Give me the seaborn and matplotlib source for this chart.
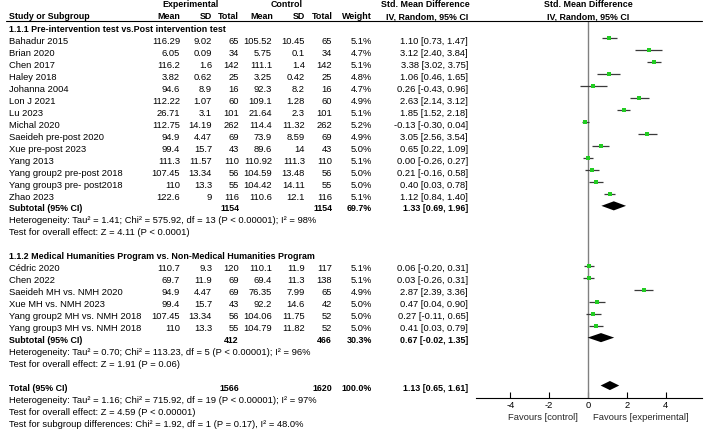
import matplotlib
matplotlib.use("Agg")
import matplotlib.pyplot as plt
import seaborn as sns
import pandas as pd
from matplotlib.transforms import blended_transform_factory
from matplotlib.lines import Line2D

# ---------------- data ----------------
studies1 = ["Bahadur 2015", "Brian 2020", "Chen 2017", "Haley 2018", "Johanna 2004", "Lon J 2021",
            "Lu 2023", "Michal 2020", "Saeideh pre-post 2020", "Xue pre-post 2023", "Yang 2013",
            "Yang group2 pre-post 2018", "Yang group3 pre- post2018", "Zhao 2023"]
exp_mean1 = ["116.29", "6.05", "116.2", "3.82", "94.6", "112.22", "26.71", "112.75", "94.9", "99.4",
             "111.3", "107.45", "110", "122.6"]
exp_sd1 = ["9.02", "0.09", "1.6", "0.62", "8.9", "1.07", "3.1", "14.19", "4.47", "15.7", "11.57",
           "13.34", "13.3", "9"]
exp_n1 = [65, 34, 142, 25, 16, 60, 101, 262, 69, 43, 110, 56, 55, 116]
ctl_mean1 = ["105.52", "5.75", "111.1", "3.25", "92.3", "109.1", "21.64", "114.4", "73.9", "89.6",
             "110.92", "104.59", "104.42", "110.6"]
ctl_sd1 = ["10.45", "0.1", "1.4", "0.42", "8.2", "1.28", "2.3", "11.32", "8.59", "14", "111.3",
           "13.48", "14.11", "12.1"]
ctl_n1 = [65, 34, 142, 25, 16, 60, 101, 262, 69, 43, 110, 56, 55, 116]
weight1 = [5.1, 4.7, 5.1, 4.8, 4.7, 4.9, 5.1, 5.2, 4.9, 5.0, 5.1, 5.0, 5.0, 5.1]
smd1 = [1.10, 3.12, 3.38, 1.06, 0.26, 2.63, 1.85, -0.13, 3.05, 0.65, 0.00, 0.21, 0.40, 1.12]
lo1 = [0.73, 2.40, 3.02, 0.46, -0.43, 2.14, 1.52, -0.30, 2.56, 0.22, -0.26, -0.16, 0.03, 0.84]
hi1 = [1.47, 3.84, 3.75, 1.65, 0.96, 3.12, 2.18, 0.04, 3.54, 1.09, 0.27, 0.58, 0.78, 1.40]

studies2 = ["Cédric 2020", "Chen 2022", "Saeideh MH vs. NMH 2020", "Xue MH vs. NMH 2023",
            "Yang group2 MH vs. NMH 2018", "Yang group3 MH vs. NMH 2018"]
exp_mean2 = ["110.7", "69.7", "94.9", "99.4", "107.45", "110"]
exp_sd2 = ["9.3", "11.9", "4.47", "15.7", "13.34", "13.3"]
exp_n2 = [120, 69, 69, 43, 56, 55]
ctl_mean2 = ["110.1", "69.4", "76.35", "92.2", "104.06", "104.79"]
ctl_sd2 = ["11.9", "11.3", "7.99", "14.6", "11.75", "11.82"]
ctl_n2 = [117, 138, 65, 42, 52, 52]
weight2 = [5.1, 5.1, 4.9, 5.0, 5.0, 5.0]
smd2 = [0.06, 0.03, 2.87, 0.47, 0.27, 0.41]
lo2 = [-0.20, -0.26, 2.39, 0.04, -0.11, 0.03]
hi2 = [0.31, 0.31, 3.36, 0.90, 0.65, 0.79]

# subtotal / total: [smd, lo, hi, weight, n_exp, n_ctl]
sub1 = [1.33, 0.69, 1.96, 69.7, 1154, 1154]
sub2 = [0.67, -0.02, 1.35, 30.3, 412, 466]
total = [1.13, 0.65, 1.61, 100.0, 1566, 1620]

group_titles = ["1.1.1 Pre-intervention test vs.Post intervention test",
                "1.1.2 Medical Humanities Program vs. Non-Medical Humanities Program"]
het1 = "Heterogeneity: Tau² = 1.41; Chi² = 575.92, df = 13 (P < 0.00001); I² = 98%"
eff1 = "Test for overall effect: Z = 4.11 (P < 0.0001)"
het2 = "Heterogeneity: Tau² = 0.70; Chi² = 113.23, df = 5 (P < 0.00001); I² = 96%"
eff2 = "Test for overall effect: Z = 1.91 (P = 0.06)"
het_t = "Heterogeneity: Tau² = 1.16; Chi² = 715.92, df = 19 (P < 0.00001); I² = 97%"
eff_t = "Test for overall effect: Z = 4.59 (P < 0.00001)"
subgrp = "Test for subgroup differences: Chi² = 1.92, df = 1 (P = 0.17), I² = 48.0%"
xticks = [-4, -2, 0, 2, 4]

# ---------------- figure ----------------
sns.set_theme(style="white")
plt.rcParams["font.family"] = ["Liberation Sans", "DejaVu Sans"]

W, H = 711, 431
fig = plt.figure(figsize=(W / 100, H / 100), dpi=100)
ax = fig.add_axes([476 / W, 1 - 399.3 / H, (702 - 476) / W, (399.3 - 21.7) / H])
ax.set_xlim((476 - 588) / 19.4, (702 - 588) / 19.4)
row0, drow = 29.3, 11.98
ax.set_ylim((399.3 - row0) / drow, (21.7 - row0) / drow)

renderer = fig.canvas.get_renderer()


def fit_size(s, target, weight):
    t = fig.text(0, 0, s, fontsize=10, fontweight=weight)
    w = t.get_window_extent(renderer).width
    t.remove()
    return 10 * target / w


fs = fit_size(het1, 306, "normal")
fsb = fit_size(group_titles[0], 216, "bold")

trans = blended_transform_factory(fig.transFigure, ax.transData)


def put(px, row, s, ha="left", bold=False):
    fig.text(px / W, row, s, transform=trans, ha=ha, va="center",
             fontsize=fsb if bold else fs, fontweight="bold" if bold else "normal", color="black")


# headers
hr1 = (5 - row0) / drow
hr2 = (16.7 - row0) / drow
put(191, hr1, "Experimental", "center", True)
put(287, hr1, "Control", "center", True)
put(425, hr1, "Std. Mean Difference", "center", True)
put(588, hr1, "Std. Mean Difference", "center", True)
put(9, hr2, "Study or Subgroup", "left", True)
for px, s in [(180, "Mean"), (212, "SD"), (239, "Total"), (273, "Mean"), (305, "SD"), (333, "Total"),
              (372, "Weight")]:
    put(px, hr2, s, "right", True)
put(468, hr2, "IV, Random, 95% CI", "right", True)
put(588, hr2, "IV, Random, 95% CI", "center", True)
fig.add_artist(Line2D([6 / W, 702 / W], [1 - 21.7 / H, 1 - 21.7 / H], color="black", lw=0.8))

# rows
rows_study = []


def study_rows(start, names, em, es, en, cm, cs, cn, wt, smd, lo, hi):
    for i in range(len(names)):
        r = start + i
        put(9, r, names[i])
        put(180, r, em[i], "right")
        put(212, r, es[i], "right")
        put(239, r, str(en[i]), "right")
        put(272, r, cm[i], "right")
        put(305, r, cs[i], "right")
        put(332, r, str(cn[i]), "right")
        put(372, r, f"{wt[i]:.1f}%", "right")
        put(468, r, f"{smd[i]:.2f} [{lo[i]:.2f}, {hi[i]:.2f}]", "right")
        rows_study.append((r, smd[i], lo[i], hi[i]))


def summary_row(r, label, vals):
    put(9, r, label, bold=True)
    put(239, r, str(vals[4]), "right", True)
    put(332, r, str(vals[5]), "right", True)
    put(372, r, f"{vals[3]:.1f}%", "right", True)
    put(468, r, f"{vals[0]:.2f} [{vals[1]:.2f}, {vals[2]:.2f}]", "right", True)


put(9, 0, group_titles[0], bold=True)
study_rows(1, studies1, exp_mean1, exp_sd1, exp_n1, ctl_mean1, ctl_sd1, ctl_n1, weight1, smd1, lo1, hi1)
summary_row(15, "Subtotal (95% CI)", sub1)
put(9, 16, het1)
put(9, 17, eff1)
put(9, 19, group_titles[1], bold=True)
study_rows(20, studies2, exp_mean2, exp_sd2, exp_n2, ctl_mean2, ctl_sd2, ctl_n2, weight2, smd2, lo2, hi2)
summary_row(26, "Subtotal (95% CI)", sub2)
put(9, 27, het2)
put(9, 28, eff2)
summary_row(30, "Total (95% CI)", total)
put(9, 31, het_t)
put(9, 32, eff_t)
put(9, 33, subgrp)

# forest
off = -0.18
df = pd.DataFrame(rows_study, columns=["row", "smd", "lo", "hi"])
df["y"] = df["row"] + off
ax.axvline(0, color="#808080", lw=1.0, zorder=1)
ax.hlines(df["y"], df["lo"], df["hi"], color="#3a3a3a", lw=0.9, zorder=2)
sns.scatterplot(data=df, x="smd", y="y", marker="s", s=7, color="#22cc22", linewidth=0, ax=ax, zorder=3,
                legend=False)
for r, v in [(15, sub1), (26, sub2), (30, total)]:
    yc = r + off
    ax.fill([v[1], v[0], v[2], v[0]], [yc, yc - 0.38, yc, yc + 0.38], color="black", lw=0, zorder=3)

ax.set_xlabel("")
ax.set_ylabel("")
ax.set_yticks([])
ax.set_xticks(xticks)
ax.set_xticklabels([str(t) for t in xticks])
for side in ["top", "left", "right"]:
    ax.spines[side].set_visible(False)
ax.spines["bottom"].set_color("black")
ax.spines["bottom"].set_linewidth(0.8)
ax.tick_params(axis="x", direction="in", length=4, width=0.8, pad=1.5, labelsize=fs, colors="black",
               bottom=True)
ax.set_facecolor("none")
fig.text(578 / W, 1 - 418 / H, "Favours [control]", ha="right", va="center", fontsize=fs)
fig.text(593 / W, 1 - 418 / H, "Favours [experimental]", ha="left", va="center", fontsize=fs)

fig.savefig("out.png", dpi=100)
